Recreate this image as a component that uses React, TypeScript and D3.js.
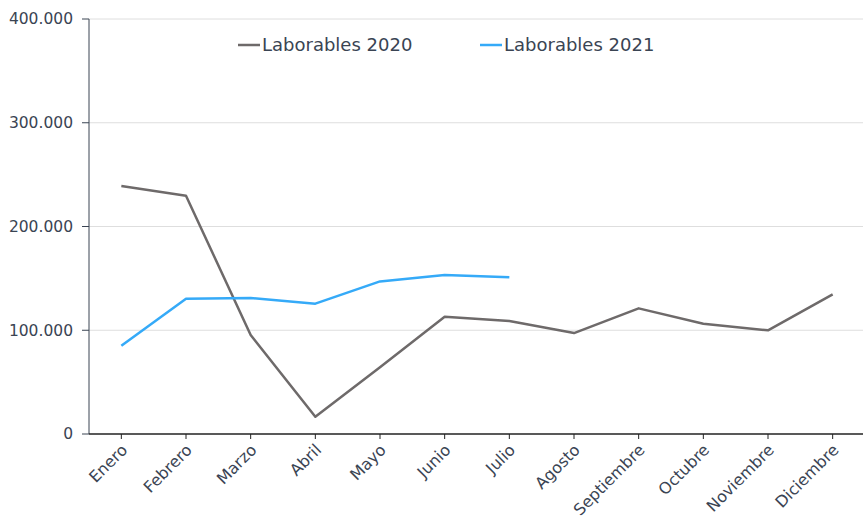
import React from "react";
import * as d3 from "d3";

const months = ["Enero","Febrero","Marzo","Abril","Mayo","Junio","Julio","Agosto","Septiembre","Octubre","Noviembre","Diciembre"];
const laborables2020 = [239000,229700,95400,16700,64300,113100,108900,97300,121100,106300,99900,134600];
const laborables2021 = [85100,130400,131100,125600,147100,153300,151000];
const yTicks = [0,100000,200000,300000,400000];
const seriesNames = ["Laborables 2020","Laborables 2021"];
const seriesColors = ["#6e6a6a","#35aaf8"];

const W = 863, H = 520;
const left = 89, right = 865, top = 19, bottom = 434;
const font = "'DejaVu Sans', sans-serif";
const textColor = "#3a4453";

export default function App() {
  const x = d3.scaleBand<string>().domain(months).range([left, right]);
  const y = d3.scaleLinear().domain([0, 400000]).range([bottom, top]);
  const cx = (m: string) => (x(m) as number) + x.bandwidth() / 2;
  const line = d3.line<number>().x((_, i) => cx(months[i])).y(d => y(d));
  const fmt = (v: number) => v === 0 ? "0" : d3.format(",")(v).replace(/,/g, ".");
  const data = [laborables2020, laborables2021];
  const legendX = [238, 480];

  return (
    <svg width={W} height={H} style={{ position: "absolute", left: 0, top: 0, fontFamily: font }}>
      <rect width={W} height={H} fill="#fff" />
      {yTicks.filter(t => t > 0).map(t => (
        <line key={t} x1={left} x2={W} y1={y(t)} y2={y(t)} stroke="#dedede" strokeWidth={1} />
      ))}
      <line x1={left} x2={left} y1={top} y2={bottom} stroke={textColor} strokeWidth={1} />
      {yTicks.map(t => (
        <g key={t}>
          <line x1={left - 7} x2={left} y1={y(t)} y2={y(t)} stroke={textColor} />
          <text x={73} y={y(t)} dy="0.35em" textAnchor="end" fontSize={15.5} fill={textColor}>{fmt(t)}</text>
        </g>
      ))}
      <line x1={left} x2={W} y1={bottom} y2={bottom} stroke="#222" strokeWidth={1.3} />
      {months.map(m => (
        <g key={m}>
          <line x1={cx(m)} x2={cx(m)} y1={bottom} y2={bottom + 5} stroke="#222" />
          <text transform={`translate(${cx(m) + 3},${bottom + 13}) rotate(-45)`} textAnchor="end" dy="0.35em" fontSize={16} fill={textColor}>{m}</text>
        </g>
      ))}
      {data.map((d, i) => (
        <path key={i} d={line(d) as string} fill="none" stroke={seriesColors[i]} strokeWidth={2.5} strokeLinejoin="round" />
      ))}
      {seriesNames.map((n, i) => (
        <g key={n}>
          <line x1={legendX[i]} x2={legendX[i] + 22} y1={45} y2={45} stroke={seriesColors[i]} strokeWidth={2.5} />
          <text x={legendX[i] + 24} y={45} dy="0.35em" fontSize={18} fill={textColor}>{n}</text>
        </g>
      ))}
    </svg>
  );
}
